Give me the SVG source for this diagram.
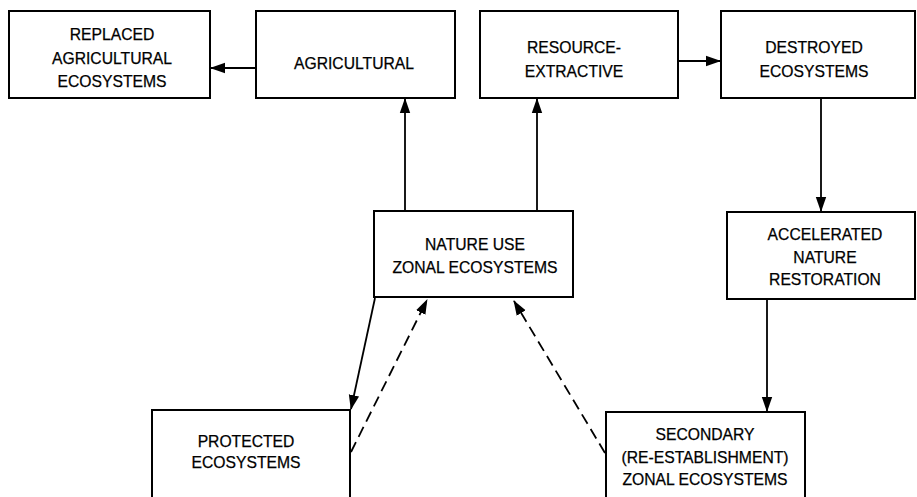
<svg xmlns="http://www.w3.org/2000/svg" width="917" height="497" viewBox="0 0 917 497">
<style>
.box{fill:#fff;stroke:#000;stroke-width:2}
.t{font-family:"Liberation Sans",Arial,sans-serif;font-size:15.7px;fill:#000;stroke:#000;stroke-width:0.25;text-anchor:middle}
.c{fill:none;stroke:#000;stroke-width:1.8}
.d{stroke-dasharray:11 6}
</style>
<defs>
<marker id="ah" markerUnits="userSpaceOnUse" markerWidth="15" markerHeight="12" viewBox="0 0 15 12" refX="14" refY="6" orient="auto">
<path d="M0,0.8 L15,6 L0,11.2 Z" fill="#000"/>
</marker>
</defs>
<rect width="917" height="497" fill="#fff"/>
<g id="connectors">
<line class="c" x1="256" y1="68" x2="211" y2="68" marker-end="url(#ah)"/>
<line class="c" x1="405" y1="211" x2="405" y2="99" marker-end="url(#ah)"/>
<line class="c" x1="537" y1="211" x2="537" y2="99" marker-end="url(#ah)"/>
<line class="c" x1="678" y1="61" x2="720" y2="61" marker-end="url(#ah)"/>
<line class="c" x1="821" y1="98" x2="821" y2="211" marker-end="url(#ah)"/>
<line class="c" x1="767" y1="299" x2="767" y2="411" marker-end="url(#ah)"/>
<line class="c" x1="375" y1="298" x2="351" y2="409" marker-end="url(#ah)"/>
<line class="c d" x1="351" y1="452" x2="427" y2="300" marker-end="url(#ah)"/>
<line class="c d" x1="605" y1="453" x2="514" y2="301" marker-end="url(#ah)"/>
</g>
<g id="replaced">
<rect class="box" x="9" y="11" width="201" height="87"/>
<text class="t" x="112" y="40">REPLACED</text>
<text class="t" x="112" y="64">AGRICULTURAL</text>
<text class="t" x="112" y="87">ECOSYSTEMS</text>
</g>
<g id="agricultural">
<rect class="box" x="256" y="11" width="199" height="87"/>
<text class="t" x="354" y="69">AGRICULTURAL</text>
</g>
<g id="resource">
<rect class="box" x="480" y="11" width="198" height="87"/>
<text class="t" x="574" y="53">RESOURCE-</text>
<text class="t" x="574" y="77">EXTRACTIVE</text>
</g>
<g id="destroyed">
<rect class="box" x="721" y="11" width="194" height="87"/>
<text class="t" x="814" y="53">DESTROYED</text>
<text class="t" x="814" y="77">ECOSYSTEMS</text>
</g>
<g id="nature">
<rect class="box" x="374" y="211" width="199" height="86"/>
<text class="t" x="475" y="250">NATURE USE</text>
<text class="t" x="475" y="273">ZONAL ECOSYSTEMS</text>
</g>
<g id="accelerated">
<rect class="box" x="727" y="212" width="188" height="87"/>
<text class="t" x="825" y="240">ACCELERATED</text>
<text class="t" x="825" y="263">NATURE</text>
<text class="t" x="825" y="285">RESTORATION</text>
</g>
<g id="protected">
<rect class="box" x="152" y="410" width="198" height="110"/>
<text class="t" x="246" y="447">PROTECTED</text>
<text class="t" x="246" y="468">ECOSYSTEMS</text>
</g>
<g id="secondary">
<rect class="box" x="606" y="412" width="199" height="110"/>
<text class="t" x="705" y="440">SECONDARY</text>
<text class="t" x="705" y="463">(RE-ESTABLISHMENT)</text>
<text class="t" x="705" y="485">ZONAL ECOSYSTEMS</text>
</g>
</svg>
